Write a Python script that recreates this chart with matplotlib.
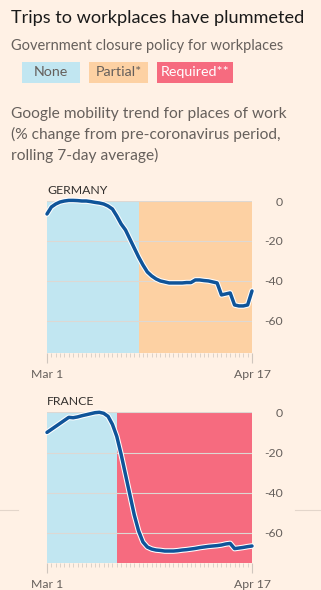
import numpy as np
import matplotlib
matplotlib.use("Agg")
import matplotlib.pyplot as plt
import matplotlib.patheffects as pe

# --- data ---
days = np.arange(48)  # Mar 1 .. Apr 17
tick_days = [0, 47]
tick_labels = ["Mar 1", "Apr 17"]
y_ticks = [0, -20, -40, -60]

germany = [-6.5, -3, -1.5, -0.5, 0, 0.3, 0.3, 0.2, 0, 0,
           -0.3, -0.7, -1, -1.5, -2.5, -4, -7.5, -11.5, -14.5, -19,
           -23.5, -28, -32, -35.5, -37.5, -39, -40, -40.5, -41, -41,
           -41, -41, -40.8, -40.8, -39.5, -39.5, -39.8, -40, -40.5, -41,
           -47, -46.5, -46, -52, -52.5, -52.5, -52, -45]
germany_policy_change = 21.2   # none -> partial
germany_policy = "partial"

france = [-10, -8.5, -7, -5.5, -4, -2.5, -2.7, -2.3, -1.7, -1.2,
          -0.7, -0.2, 0, -0.5, -2, -6, -12, -21, -31, -41,
          -51, -59, -64.5, -67, -68, -68.5, -68.7, -69, -69, -69,
          -68.8, -68.5, -68.3, -68, -67.7, -67.3, -67, -66.7, -66.5, -66.3,
          -66, -65.5, -65.2, -67.8, -67.5, -67.2, -66.8, -66.5]
france_policy_change = 16.0    # none -> required
france_policy = "required"

policy_labels = ["None", "Partial*", "Required**"]

# --- style ---
BG = "#fff1e5"
C_NONE = "#c1e6f1"
C_PARTIAL = "#fdd1a3"
C_REQUIRED = "#f66b7f"
LINE = "#0f5499"
GREY = "#66605c"
shade = {"partial": C_PARTIAL, "required": C_REQUIRED}

plt.rcParams["font.family"] = ["Lato", "DejaVu Sans"]

fig = plt.figure(figsize=(3.21, 5.90), dpi=100)
fig.patch.set_facecolor(BG)

fig.text(11 / 321, 1 - 18 / 590, "Trips to workplaces have plummeted",
         fontsize=13.1, color="#1a1a1a", va="center", ha="left")
fig.text(11 / 321, 1 - 46 / 590, "Government closure policy for workplaces",
         fontsize=10.5, color=GREY, va="center", ha="left")

# legend boxes
legend_boxes = [(22, 80, C_NONE, GREY), (89, 148, C_PARTIAL, GREY),
                (157, 233, C_REQUIRED, "white")]
for (x0, x1, col, tcol), lab in zip(legend_boxes, policy_labels):
    fig.patches.append(plt.Rectangle((x0 / 321, 1 - 83 / 590), (x1 - x0) / 321,
                                     21 / 590, transform=fig.transFigure,
                                     facecolor=col, edgecolor="none"))
    fig.text((x0 + x1) / 2 / 321, 1 - 72.5 / 590, lab, fontsize=10.3,
             color=tcol, ha="center", va="center")

fig.text(11 / 321, 1 - 135 / 590,
         "Google mobility trend for places of work\n"
         "(% change from pre-coronavirus period,\n"
         "rolling 7-day average)",
         fontsize=11.2, color=GREY, va="center", ha="left", linespacing=1.5)

# faint separator line seen in the reference
fig.add_artist(plt.Line2D([0, 18 / 321], [1 - 510 / 590] * 2, color="#e3d6cb", lw=0.8))
fig.add_artist(plt.Line2D([295 / 321, 1], [1 - 510 / 590] * 2, color="#e3d6cb", lw=0.8))


def panel(rect, values, change, policy, ymin, name):
    ax = fig.add_axes(rect)
    ax.set_facecolor(BG)
    ax.axvspan(days[0], change, color=C_NONE, lw=0, zorder=0)
    ax.axvspan(change, days[-1], color=shade[policy], lw=0, zorder=0)
    for y in y_ticks:
        ax.axhline(y, color="#ddd8d3", lw=0.8, zorder=1)
    ax.plot(days, values, color=LINE, lw=2.5, zorder=3, clip_on=False,
            solid_capstyle="round",
            path_effects=[pe.Stroke(linewidth=4.0, foreground="white"), pe.Normal()])
    ax.set_xlim(days[0], days[-1])
    ax.set_ylim(ymin, 0)
    for s in ax.spines.values():
        s.set_visible(False)
    ax.yaxis.tick_right()
    ax.set_yticks(y_ticks)
    ax.set_yticklabels([str(v) for v in y_ticks])
    ax.tick_params(axis="y", length=0, pad=22.5, labelsize=8.8, labelcolor=GREY)
    for lbl in ax.get_yticklabels():
        lbl.set_horizontalalignment("right")
    ax.set_xticks(tick_days)
    ax.set_xticklabels(tick_labels)
    ax.set_xticks(days, minor=True)
    ax.tick_params(axis="x", which="major", length=7, width=0.8, color="#cfc6be",
                   labelsize=8.8, labelcolor=GREY, pad=4)
    ax.tick_params(axis="x", which="minor", length=3, width=0.6, color="#d6ccc4")
    ax.text(0, 1.035, name, transform=ax.transAxes, fontsize=8.8, color="#33302e",
            ha="left", va="bottom")
    return ax


panel([47 / 321, 1 - 353.3 / 590, 205 / 321, 152.3 / 590], germany,
      germany_policy_change, germany_policy, -76.2, "GERMANY")
panel([47 / 321, 1 - 563.3 / 590, 205 / 321, 151 / 590], france,
      france_policy_change, france_policy, -75.1, "FRANCE")

fig.savefig("out.png", dpi=100, facecolor=BG)
